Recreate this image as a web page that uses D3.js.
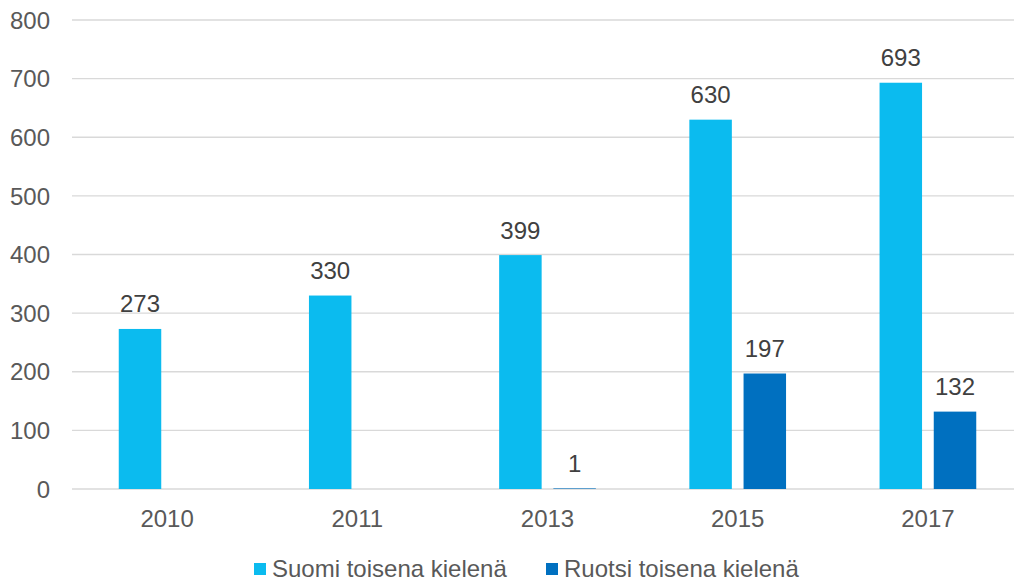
<!DOCTYPE html>
<html lang="en">
<head>
    <meta charset="UTF-8">
    <script src="https://d3js.org/d3.v7.min.js"></script>
    <style>
        body { margin: 0; background: #fff; }
        svg { font-family: "Liberation Sans", Arial, sans-serif; }
    </style>
</head>
<body>
<div id="chart_area"></div>
<script>
    // data
    var years = ["2010", "2011", "2013", "2015", "2017"];
    var seriesNames = ["Suomi toisena kielenä", "Ruotsi toisena kielenä"];
    var suomiValues = [273, 330, 399, 630, 693];
    var ruotsiValues = [null, null, 1, 197, 132];
    var yTicks = [0, 100, 200, 300, 400, 500, 600, 700, 800];

    var colors = ["#0bbbef", "#0070c0"];
    var W = 1014, H = 581;

    var svg = d3.select("#chart_area").append("svg")
        .attr("width", W)
        .attr("height", H);

    var x0 = d3.scaleBand()
        .domain(years)
        .range([72, 1023])
        .padding(0);

    var groupWidth = 96.7;
    var x1 = d3.scaleBand()
        .domain(seriesNames)
        .range([0, groupWidth])
        .paddingInner(0.216);

    var y = d3.scaleLinear()
        .domain([0, 800])
        .range([489, 20]);

    // gridlines
    svg.append("g")
        .selectAll("line")
        .data(yTicks)
        .enter()
        .append("line")
        .attr("x1", 72)
        .attr("x2", W)
        .attr("y1", function (d) { return y(d); })
        .attr("y2", function (d) { return y(d); })
        .attr("stroke", "#d9d9d9")
        .attr("stroke-width", 1.3);

    // y labels
    svg.append("g")
        .selectAll("text")
        .data(yTicks)
        .enter()
        .append("text")
        .attr("x", 50)
        .attr("y", function (d) { return y(d); })
        .attr("dy", "0.36em")
        .attr("text-anchor", "end")
        .attr("font-size", 24)
        .attr("fill", "#595959")
        .text(function (d) { return d; });

    // x labels
    svg.append("g")
        .selectAll("text")
        .data(years)
        .enter()
        .append("text")
        .attr("x", function (d) { return x0(d) + x0.bandwidth() / 2; })
        .attr("y", 527)
        .attr("text-anchor", "middle")
        .attr("font-size", 24)
        .attr("fill", "#595959")
        .text(function (d) { return d; });

    var rows = [];
    years.forEach(function (yr, i) {
        rows.push({ year: yr, series: seriesNames[0], value: suomiValues[i], c: colors[0] });
        if (ruotsiValues[i] !== null)
            rows.push({ year: yr, series: seriesNames[1], value: ruotsiValues[i], c: colors[1] });
    });

    function barX(d) {
        return x0(d.year) + (x0.bandwidth() - groupWidth) / 2 + x1(d.series);
    }

    svg.append("g")
        .selectAll("rect")
        .data(rows)
        .enter()
        .append("rect")
        .attr("x", barX)
        .attr("y", function (d) { return y(d.value); })
        .attr("width", x1.bandwidth())
        .attr("height", function (d) { return y(0) - y(d.value); })
        .attr("fill", function (d) { return d.c; });

    // value labels
    svg.append("g")
        .selectAll("text")
        .data(rows)
        .enter()
        .append("text")
        .attr("x", function (d) { return barX(d) + x1.bandwidth() / 2; })
        .attr("y", function (d) { return y(d.value) - 16.5; })
        .attr("text-anchor", "middle")
        .attr("font-size", 24)
        .attr("fill", "#404040")
        .text(function (d) { return d.value; });

    // legend
    var legendX = [254, 546];
    var legend = svg.append("g")
        .selectAll("g")
        .data(seriesNames)
        .enter()
        .append("g")
        .attr("transform", function (d, i) { return "translate(" + legendX[i] + ",0)"; });
    legend.append("rect")
        .attr("x", 0)
        .attr("y", 563)
        .attr("width", 12)
        .attr("height", 12)
        .attr("fill", function (d, i) { return colors[i]; });
    legend.append("text")
        .attr("x", 18)
        .attr("y", 577)
        .attr("font-size", 24)
        .attr("fill", "#595959")
        .text(function (d) { return d; });
</script>
</body>
</html>
